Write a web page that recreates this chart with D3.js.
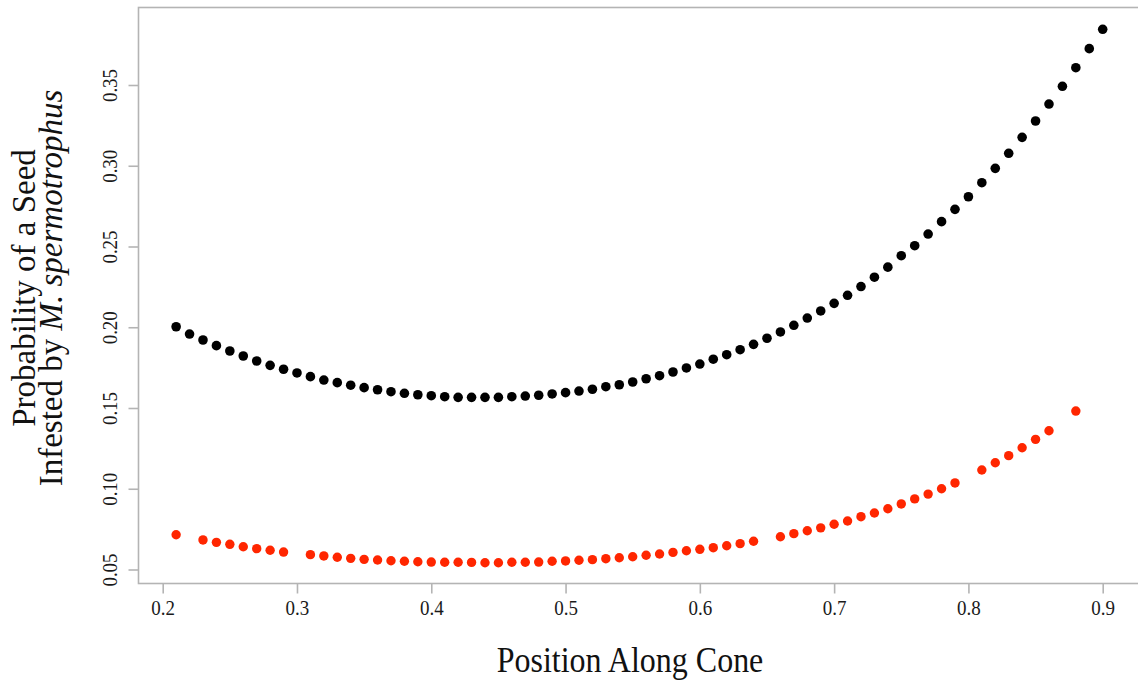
<!DOCTYPE html>
<html>
<head>
<meta charset="utf-8">
<script src="https://cdn.jsdelivr.net/npm/d3@7"></script>
<style>
  html, body { margin: 0; padding: 0; background: #fff; }
  svg { display: block; }
  text { font-family: "Liberation Serif", "DejaVu Serif", serif; }
</style>
</head>
<body>
<svg id="chart" width="1138" height="681"></svg>
<script>
// ---- data ----
const positions = [0.21,0.22,0.23,0.24,0.25,0.26,0.27,0.28,0.29,0.30,
  0.31,0.32,0.33,0.34,0.35,0.36,0.37,0.38,0.39,0.40,
  0.41,0.42,0.43,0.44,0.45,0.46,0.47,0.48,0.49,0.50,
  0.51,0.52,0.53,0.54,0.55,0.56,0.57,0.58,0.59,0.60,
  0.61,0.62,0.63,0.64,0.65,0.66,0.67,0.68,0.69,0.70,
  0.71,0.72,0.73,0.74,0.75,0.76,0.77,0.78,0.79,0.80,
  0.81,0.82,0.83,0.84,0.85,0.86,0.87,0.88,0.89,0.90];

const blackSeries = [0.2003,0.1958,0.1921,0.1886,0.1853,0.1822,0.1791,0.1764,0.1740,0.1717,
  0.1694,0.1673,0.1657,0.1641,0.1626,0.1613,0.1601,0.1591,0.1582,0.1576,
  0.1570,0.1566,0.1566,0.1566,0.1566,0.1570,0.1574,0.1579,0.1587,0.1595,
  0.1605,0.1616,0.1632,0.1644,0.1661,0.1681,0.1700,0.1723,0.1748,0.1772,
  0.1802,0.1830,0.1861,0.1894,0.1932,0.1971,0.2012,0.2057,0.2101,0.2148,
  0.2198,0.2252,0.2310,0.2372,0.2443,0.2505,0.2577,0.2654,0.2730,0.2808,
  0.2895,0.2984,0.3077,0.3176,0.3277,0.3382,0.3492,0.3607,0.3725,0.3845];

const redSeries = [0.0715,null,0.0683,0.0668,0.0656,0.0641,0.0629,0.0619,0.0608,null,
  0.0592,0.0584,0.0576,0.0569,0.0563,0.0559,0.0554,0.0551,0.0548,0.0546,
  0.0545,0.0545,0.0544,0.0542,0.0542,0.0545,0.0545,0.0546,0.0551,0.0553,
  0.0557,0.0561,0.0567,0.0573,0.0579,0.0588,0.0596,0.0606,0.0616,0.0625,
  0.0635,0.0647,0.0660,0.0675,null,0.0703,0.0722,0.0740,0.0758,0.0780,
  0.0800,0.0827,0.0850,0.0876,0.0906,0.0937,0.0967,0.1000,0.1036,null,
  0.1116,0.1161,0.1205,0.1254,0.1306,0.1359,null,0.1481,null,null];

const xTicks = [0.2,0.3,0.4,0.5,0.6,0.7,0.8,0.9];
const yTicks = [0.05,0.10,0.15,0.20,0.25,0.30,0.35];

// ---- layout ----
const svg = d3.select("#chart");
const box = {left: 138.5, top: 7.5, right: 1145, bottom: 583.5};

const x = d3.scaleLinear().domain([0.2, 0.9]).range([162.7, 1102.7]);
const y = d3.scaleLinear().domain([0.05, 0.35]).range([569.5, 85]);

// plot box
svg.append("rect")
  .attr("x", box.left).attr("y", box.top)
  .attr("width", box.right - box.left).attr("height", box.bottom - box.top)
  .attr("fill", "none").attr("stroke", "#b4b4b4").attr("stroke-width", 1.6);

// x axis
const xAxis = d3.axisBottom(x).tickValues(xTicks).tickSize(10).tickFormat(d3.format(".1f"));
const gx = svg.append("g").attr("transform", `translate(0,${box.bottom})`).call(xAxis);
gx.select(".domain").remove();
gx.selectAll(".tick line").attr("stroke", "#b4b4b4").attr("stroke-width", 1.6);
gx.selectAll(".tick text")
  .attr("y", 31).attr("dy", 0)
  .attr("transform", "translate(0,30.5) scale(1,1.12) translate(0,-30.5)")
  .attr("fill", "#1a1a1a").style("font-size", "19px").style("font-family", "Liberation Serif");

// y axis
const yAxis = d3.axisLeft(y).tickValues(yTicks).tickSize(10).tickFormat(d3.format(".2f"));
const gy = svg.append("g").attr("transform", `translate(${box.left},0)`).call(yAxis);
gy.select(".domain").remove();
gy.selectAll(".tick line").attr("stroke", "#b4b4b4").attr("stroke-width", 1.6);
gy.selectAll(".tick text")
  .attr("x", 0).attr("dy", 0)
  .attr("transform", "translate(-22,0) rotate(-90) scale(1,1.12)")
  .attr("text-anchor", "middle")
  .attr("fill", "#1a1a1a").style("font-size", "19px").style("font-family", "Liberation Serif");

// points
const blackData = positions.map((p, i) => ({p, v: blackSeries[i]})).filter(d => d.v != null);
const redData = positions.map((p, i) => ({p, v: redSeries[i]})).filter(d => d.v != null);

svg.append("g").selectAll("circle").data(blackData).join("circle")
  .attr("cx", d => x(d.p)).attr("cy", d => y(d.v)).attr("r", 4.8).attr("fill", "#000");

svg.append("g").selectAll("circle").data(redData).join("circle")
  .attr("cx", d => x(d.p)).attr("cy", d => y(d.v)).attr("r", 4.7).attr("fill", "#ff2600");

// titles
svg.append("text")
  .attr("transform", "translate(630,672) scale(1,1.12)")
  .attr("text-anchor", "middle")
  .style("font-size", "32px").attr("fill", "#111")
  .text("Position Along Cone");

const yt = svg.append("g").attr("transform", "translate(0,288) rotate(-90)");
yt.append("text")
  .attr("x", 0).attr("y", 35)
  .attr("text-anchor", "middle")
  .style("font-size", "33px").attr("fill", "#111")
  .text("Probability of a Seed");
const t2 = yt.append("text")
  .attr("x", 0).attr("y", 62)
  .attr("text-anchor", "middle")
  .style("font-size", "33px").attr("fill", "#111");
t2.append("tspan").text("Infested by ");
t2.append("tspan").style("font-style", "italic").text("M. spermotrophus");
</script>
</body>
</html>
